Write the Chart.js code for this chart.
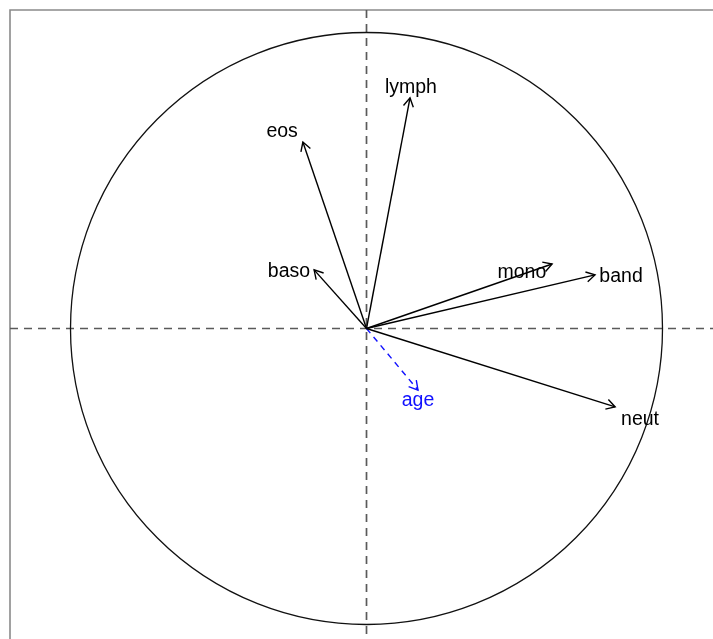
<!DOCTYPE html>
<html><head><meta charset="utf-8">
<script src="https://cdn.jsdelivr.net/npm/chart.js@4/dist/chart.umd.min.js"></script>
<style>html,body{margin:0;padding:0;background:#fff;overflow:hidden}canvas{display:block}</style>
</head><body>
<canvas id="c" width="713" height="639"></canvas>
<script>
// Variables (correlation circle)
const variables = ['lymph', 'eos', 'baso', 'mono', 'band', 'neut', 'age'];
const loadX = [0.147, -0.215, -0.177, 0.627, 0.772, 0.840, 0.174];
const loadY = [0.779, 0.630, 0.198, 0.218, 0.181, -0.265, -0.208];
// label anchor points (data units)
const labelX = [0.150, -0.285, -0.262, 0.525, 0.860, 0.924, 0.174];
const labelY = [0.815, 0.664, 0.193, 0.188, 0.174, -0.309, -0.245];
const supplementary = ['age'];
// axis window
const xRange = [-1.2044, 1.1706];
const yRange = [-1.0490, 1.0760];

const colorOf = v => supplementary.includes(v) ? '#1010ff' : '#000';

const datasets = variables.map((v, i) => ({
  type: 'line',
  label: v,
  data: [{x: 0, y: 0}, {x: loadX[i], y: loadY[i]}],
  borderColor: colorOf(v),
  borderWidth: 1.4,
  borderDash: supplementary.includes(v) ? [6, 5] : [],
  pointRadius: 0,
  fill: false
}));

const circlePlugin = {
  id: 'circle',
  beforeDatasetsDraw(chart) {
    const {ctx, chartArea: a, scales: {x, y}} = chart;
    const cx = x.getPixelForValue(0), cy = y.getPixelForValue(0);
    const r = x.getPixelForValue(1) - cx;
    ctx.save();
    // frame
    ctx.strokeStyle = '#8a8a8a';
    ctx.lineWidth = 1.6;
    ctx.beginPath();
    ctx.moveTo(a.left, a.bottom + 5);
    ctx.lineTo(a.left, a.top);
    ctx.lineTo(a.right + 5, a.top);
    ctx.stroke();
    // dashed axes
    ctx.strokeStyle = '#5a5a5a';
    ctx.lineWidth = 1.7;
    ctx.setLineDash([8, 6]);
    ctx.beginPath();
    ctx.moveTo(a.left, cy); ctx.lineTo(a.right, cy);
    ctx.moveTo(cx, a.top); ctx.lineTo(cx, a.bottom);
    ctx.stroke();
    ctx.setLineDash([]);
    // unit circle
    ctx.strokeStyle = '#111';
    ctx.lineWidth = 1.3;
    ctx.beginPath();
    ctx.arc(cx, cy, r, 0, Math.PI * 2);
    ctx.stroke();
    ctx.restore();
  },
  afterDatasetsDraw(chart) {
    const {ctx, scales: {x, y}} = chart;
    const cx = x.getPixelForValue(0), cy = y.getPixelForValue(0);
    ctx.save();
    variables.forEach((v, i) => {
      const tx = x.getPixelForValue(loadX[i]), ty = y.getPixelForValue(loadY[i]);
      const ang = Math.atan2(ty - cy, tx - cx);
      const len = 10, spread = Math.PI / 6;
      ctx.strokeStyle = colorOf(v);
      ctx.lineWidth = 1.4;
      ctx.beginPath();
      ctx.moveTo(tx - len * Math.cos(ang - spread), ty - len * Math.sin(ang - spread));
      ctx.lineTo(tx, ty);
      ctx.lineTo(tx - len * Math.cos(ang + spread), ty - len * Math.sin(ang + spread));
      ctx.stroke();
      ctx.fillStyle = colorOf(v);
      ctx.font = '19.5px "Liberation Sans", Arial, sans-serif';
      ctx.textAlign = 'center';
      ctx.textBaseline = 'middle';
      ctx.fillText(v, x.getPixelForValue(labelX[i]), y.getPixelForValue(labelY[i]));
    });
    ctx.restore();
  }
};

new Chart(document.getElementById('c'), {
  type: 'line',
  data: {datasets},
  options: {
    responsive: false,
    animation: false,
    devicePixelRatio: 1,
    layout: {padding: {left: 10, top: 10, right: 0, bottom: 0}},
    plugins: {legend: {display: false}, tooltip: {enabled: false}},
    scales: {
      x: {type: 'linear', min: xRange[0], max: xRange[1], display: false},
      y: {type: 'linear', min: yRange[0], max: yRange[1], display: false}
    }
  },
  plugins: [circlePlugin]
});
</script>
</body></html>
